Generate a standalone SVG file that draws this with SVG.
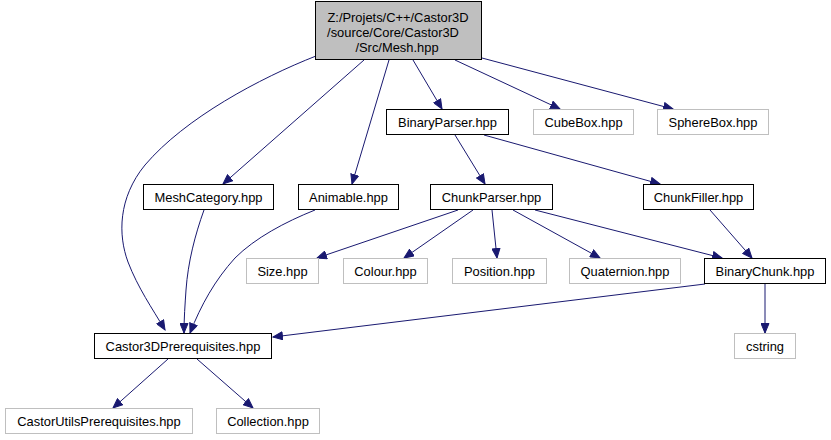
<svg xmlns="http://www.w3.org/2000/svg" width="831" height="440" viewBox="0 0 831 440">
<style>
.n rect{fill:#ffffff;stroke:#000000;stroke-width:1}
.n.root rect{fill:#bfbfbf}
.n.ext rect{stroke:#bfbfbf}
.n text{font-family:"Liberation Sans",Arial,sans-serif;font-size:12.9px;fill:#000000;text-anchor:middle}
.e path{fill:none;stroke:#191970;stroke-width:1;marker-end:url(#arr)}
</style>
<defs>
<marker id="arr" markerUnits="userSpaceOnUse" markerWidth="11" markerHeight="9" refX="10" refY="4.5" orient="auto" viewBox="0 0 11 9">
<path d="M0.5,0.5 L10,4.5 L0.5,8.5 z" fill="#191970" stroke="#191970" stroke-width="1"/>
</marker>
</defs>
<rect width="831" height="440" fill="#ffffff"/>
<g id="edges" class="e">
<path d="M316,56 C260,78 185,118 145,165 C118,198 118,235 128,262 C138,288 152,308 165,330"/>
<path d="M364,60 L223,184"/>
<path d="M389,60 L352,184"/>
<path d="M413,60 L442,109"/>
<path d="M455,60 L560,109"/>
<path d="M482,58 L673,109"/>
<path d="M455,135 L485,184"/>
<path d="M484,135 L660,184"/>
<path d="M458,210 L317,258"/>
<path d="M473,210 L404,258"/>
<path d="M492,210 L497,258"/>
<path d="M513,210 L600,258"/>
<path d="M535,210 L722,258"/>
<path d="M710,210 L752,258"/>
<path d="M705,284 L273,337"/>
<path d="M765,284 L765,333"/>
<path d="M204,210 C195,235 188,262 186,290 C185,305 184,318 184,333"/>
<path d="M315,210 C285,222 255,238 235,258 C215,280 201,305 190,333"/>
<path d="M168,359 L113,408"/>
<path d="M197,359 L253,408"/>
</g>
<g id="n_mesh" class="n root"><rect x="315.5" y="1.5" width="166" height="58"/><text x="398" y="22">Z:/Projets/C++/Castor3D</text><text x="393" y="37">/source/Core/Castor3D</text><text x="397" y="52">/Src/Mesh.hpp</text></g>
<g id="n_binaryparser" class="n"><rect x="386.5" y="109.5" width="122" height="25"/><text x="447.5" y="126.5">BinaryParser.hpp</text></g>
<g id="n_cubebox" class="n ext"><rect x="533.5" y="109.5" width="100" height="25"/><text x="583.5" y="126.5">CubeBox.hpp</text></g>
<g id="n_spherebox" class="n ext"><rect x="657.5" y="109.5" width="111" height="25"/><text x="713" y="126.5">SphereBox.hpp</text></g>
<g id="n_meshcategory" class="n"><rect x="143.5" y="184.5" width="130" height="25"/><text x="208.5" y="201.5">MeshCategory.hpp</text></g>
<g id="n_animable" class="n"><rect x="298.5" y="184.5" width="100" height="25"/><text x="348.5" y="201.5">Animable.hpp</text></g>
<g id="n_chunkparser" class="n"><rect x="430.5" y="184.5" width="122" height="25"/><text x="491.5" y="201.5">ChunkParser.hpp</text></g>
<g id="n_chunkfiller" class="n"><rect x="643.5" y="184.5" width="110" height="25"/><text x="698.5" y="201.5">ChunkFiller.hpp</text></g>
<g id="n_size" class="n ext"><rect x="246.5" y="258.5" width="72" height="25"/><text x="282.5" y="275.5">Size.hpp</text></g>
<g id="n_colour" class="n ext"><rect x="343.5" y="258.5" width="84" height="25"/><text x="385.5" y="275.5">Colour.hpp</text></g>
<g id="n_position" class="n ext"><rect x="452.5" y="258.5" width="94" height="25"/><text x="499.5" y="275.5">Position.hpp</text></g>
<g id="n_quaternion" class="n ext"><rect x="569.5" y="258.5" width="111" height="25"/><text x="625" y="275.5">Quaternion.hpp</text></g>
<g id="n_binarychunk" class="n"><rect x="704.5" y="258.5" width="121" height="25"/><text x="765" y="275.5">BinaryChunk.hpp</text></g>
<g id="n_castor3dprereq" class="n"><rect x="94.5" y="333.5" width="177" height="25"/><text x="183" y="350.5">Castor3DPrerequisites.hpp</text></g>
<g id="n_cstring" class="n ext"><rect x="734.5" y="333.5" width="61" height="25"/><text x="765" y="350.5">cstring</text></g>
<g id="n_castorutils" class="n ext"><rect x="5.5" y="408.5" width="187" height="25"/><text x="99" y="425.5">CastorUtilsPrerequisites.hpp</text></g>
<g id="n_collection" class="n ext"><rect x="216.5" y="408.5" width="103" height="25"/><text x="268" y="425.5">Collection.hpp</text></g>
</svg>
